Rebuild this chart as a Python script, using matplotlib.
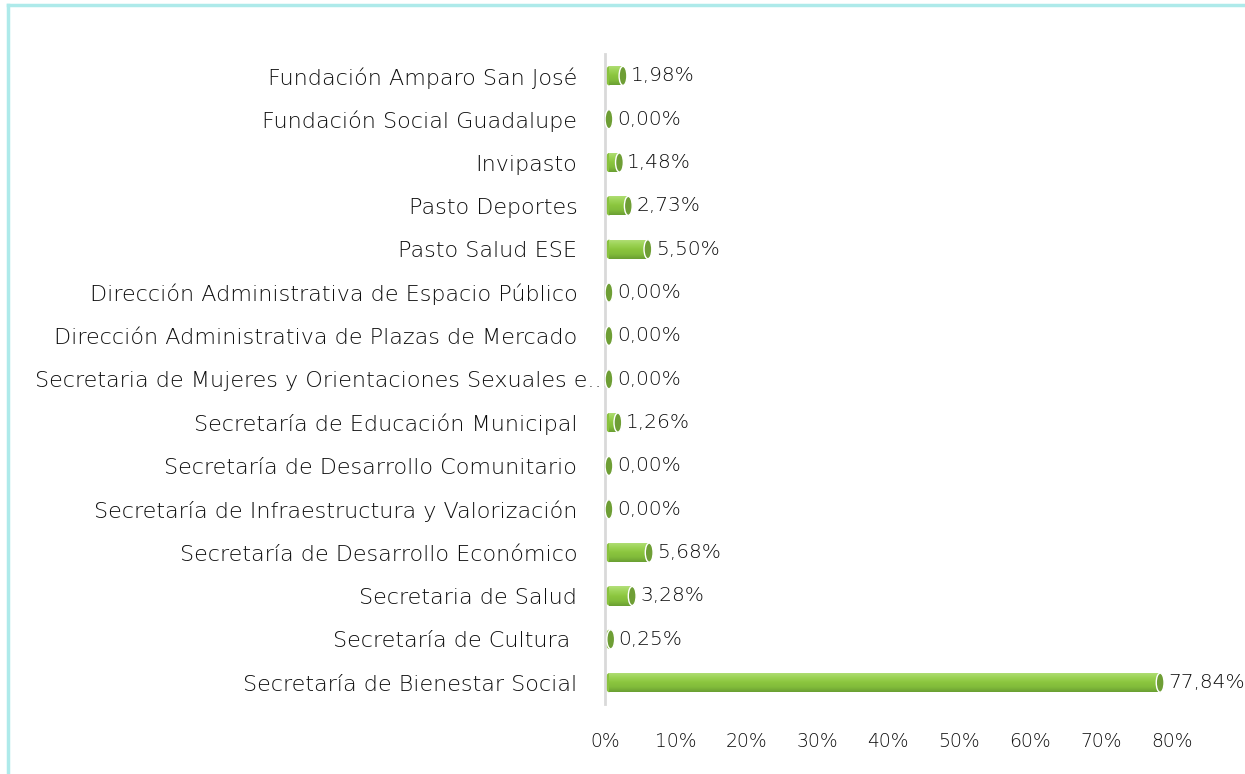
import matplotlib
matplotlib.use('Agg')
import matplotlib.pyplot as plt
import numpy as np
from matplotlib.patches import Ellipse, Rectangle
from matplotlib.transforms import ScaledTranslation
from matplotlib.ticker import FuncFormatter
from matplotlib.colors import LinearSegmentedColormap

plt.rcParams['font.family'] = ['DejaVu Sans']
plt.rcParams['font.weight'] = 'light'

# Data (top to bottom as in the chart)
categories = [
    'Fundación Amparo San José',
    'Fundación Social Guadalupe',
    'Invipasto',
    'Pasto Deportes',
    'Pasto Salud ESE',
    'Dirección Administrativa de Espacio Público',
    'Dirección Administrativa de Plazas de Mercado',
    'Secretaria de Mujeres y Orientaciones Sexuales e...',
    'Secretaría de Educación Municipal',
    'Secretaría de Desarrollo Comunitario',
    'Secretaría de Infraestructura y Valorización',
    'Secretaría de Desarrollo Económico',
    'Secretaria de Salud',
    'Secretaría de Cultura ',
    'Secretaría de Bienestar Social',
]
values = [1.98, 0.00, 1.48, 2.73, 5.50, 0.00, 0.00, 0.00, 1.26, 0.00, 0.00, 5.68, 3.28, 0.25, 77.84]
ticks = [0, 10, 20, 30, 40, 50, 60, 70, 80]

text_col = '#0d0d0d'
fs = 16
fs_val = 14.5
fs_tick = 13.5
cap_w = 1.1     # width of the cylinder end in data units
bar_h = 0.44

fig = plt.figure(figsize=(12.45, 7.74), dpi=100)
ax = fig.add_axes([0.486, 0.090, 0.455, 0.840])

# light cyan frame (left and top only visible)
fig.add_artist(plt.Line2D([0.0062, 0.0062], [0, 0.994], color='#aeeaea', lw=2.5, transform=fig.transFigure))
fig.add_artist(plt.Line2D([0.0062, 1.01], [0.994, 0.994], color='#aeeaea', lw=2.5, transform=fig.transFigure))

ypos = np.arange(len(categories))[::-1]

# vertical gradient for the cylinder body (row 0 = top)
grad = np.linspace(0, 1, 64).reshape(-1, 1)
cyl = LinearSegmentedColormap.from_list('cyl', ['#b3df7a', '#9dd457', '#8cc63f', '#82bc3b', '#6a9f33'])

bars = ax.barh(ypos, values, height=bar_h, left=cap_w / 2, color='#8cc63f', linewidth=0)
for b, v in zip(bars, values):
    x0, y0, w, h = b.get_x(), b.get_y(), b.get_width(), b.get_height()
    yc = y0 + h / 2
    # rounded back end
    ax.add_patch(Ellipse((x0, yc), cap_w, h, facecolor='#8ac23f', edgecolor='none', zorder=2))
    if w > 0:
        im = ax.imshow(grad, extent=[x0, x0 + w, y0, y0 + h], cmap=cyl, aspect='auto', zorder=3)
        im.set_clip_path(Rectangle((x0, y0), w, h, transform=ax.transData))
    # front end
    ax.add_patch(Ellipse((x0 + w, yc), cap_w, h, facecolor='#6e9e35', edgecolor='white', lw=1.0, zorder=4))
    ax.text(x0 + w + cap_w / 2 + 0.55, yc, f'{v:.2f}%'.replace('.', ','), va='center', ha='left',
            fontsize=fs_val, color=text_col, zorder=5)

ax.set_xlim(0, 80)
ax.set_ylim(-0.5, len(categories) - 0.5)
ax.set_yticks(ypos)
ax.set_yticklabels(categories, fontsize=fs, color=text_col)
ax.set_xticks(ticks)
ax.xaxis.set_major_formatter(FuncFormatter(lambda x, p: f'{x:.0f}%'))
ax.tick_params(axis='x', length=0, pad=20, labelsize=fs_tick, labelcolor=text_col)
ax.tick_params(axis='y', length=0, pad=20)

# truncated long label sits further right in the original
for lab in ax.get_yticklabels():
    if lab.get_text().endswith('e...'):
        lab.set_transform(lab.get_transform() + ScaledTranslation(0.31, 0, fig.dpi_scale_trans))

for s in ['top', 'right', 'bottom']:
    ax.spines[s].set_visible(False)
ax.spines['left'].set_color('#d9d9d9')
ax.spines['left'].set_linewidth(2)

fig.savefig('out.png', dpi=100)
